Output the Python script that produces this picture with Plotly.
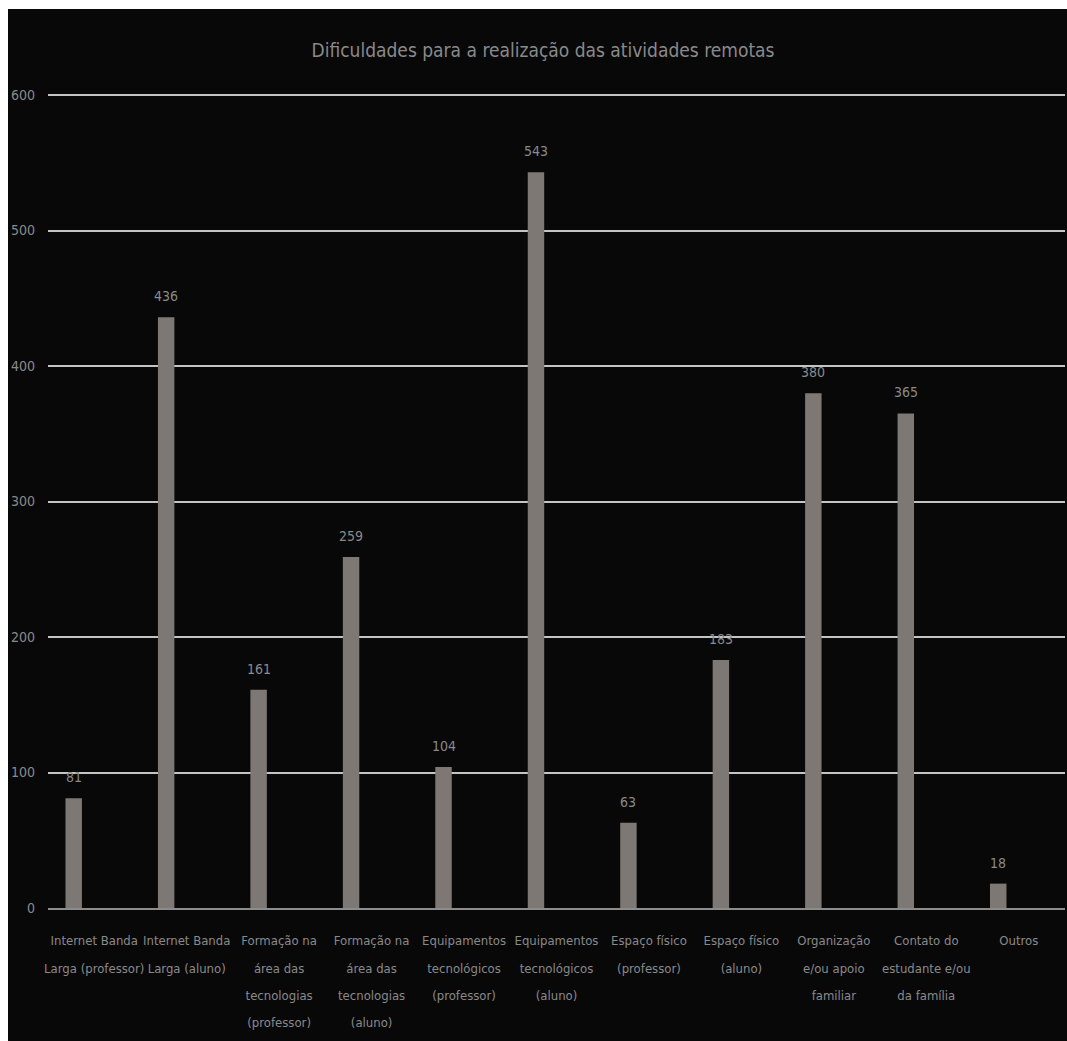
import plotly.graph_objects as go

categories = [
    "Internet Banda Larga (professor)",
    "Internet Banda Larga (aluno)",
    "Formação na área das tecnologias (professor)",
    "Formação na área das tecnologias (aluno)",
    "Equipamentos tecnológicos (professor)",
    "Equipamentos tecnológicos (aluno)",
    "Espaço físico (professor)",
    "Espaço físico (aluno)",
    "Organização e/ou apoio familiar",
    "Contato do estudante e/ou da família",
    "Outros",
]
tick_lines = [
    ["Internet Banda", "Larga (professor)"],
    ["Internet Banda", "Larga (aluno)"],
    ["Formação na", "área das", "tecnologias", "(professor)"],
    ["Formação na", "área das", "tecnologias", "(aluno)"],
    ["Equipamentos", "tecnológicos", "(professor)"],
    ["Equipamentos", "tecnológicos", "(aluno)"],
    ["Espaço físico", "(professor)"],
    ["Espaço físico", "(aluno)"],
    ["Organização", "e/ou apoio", "familiar"],
    ["Contato do", "estudante e/ou", "da família"],
    ["Outros"],
]
values = [81, 436, 161, 259, 104, 543, 63, 183, 380, 365, 18]
y_ticks = [0, 100, 200, 300, 400, 500, 600]

FONT = "Liberation Sans Narrow, DejaVu Sans Condensed, Liberation Sans, sans-serif"
GRAY = "#8a8a8a"
BAR = "#7d7874"

ticktext = ["<br>".join(f'<span style="font-size:13px">{l}</span>' for l in lines) for lines in tick_lines]

fig = go.Figure()
fig.add_trace(go.Bar(
    x=categories, y=values,
    marker=dict(color=BAR, line=dict(width=0)),
    width=0.178, offset=-0.311,
    hoverinfo="x+y",
))

for c, v in zip(categories, values):
    fig.add_annotation(
        x=c, y=v, text=str(v), showarrow=False,
        xshift=-20.5, yanchor="bottom", yshift=11,
        font=dict(family=FONT, size=14, color=GRAY),
    )

L, R, T, B = 48, 2, 94, 133
W, H = 1067, 1041
pw, ph = W - L - R, H - T - B

def px2x(px):
    return (px - L) / pw

def py2y(py):
    return (H - B - py) / ph

fig.add_shape(type="rect", xref="paper", yref="paper",
              x0=px2x(8), x1=px2x(W + 5), y0=py2y(9), y1=py2y(H + 5),
              fillcolor="#080808", line=dict(width=0), layer="below")

fig.update_layout(
    width=W, height=H,
    margin=dict(l=L, r=R, t=T, b=B, pad=0),
    paper_bgcolor="white",
    plot_bgcolor="rgba(0,0,0,0)",
    showlegend=False,
    title=dict(
        text="Dificuldades para a realização das atividades remotas",
        x=(543 - L) / pw, xanchor="center", xref="paper",
        y=1 - 50 / H, yanchor="middle",
        font=dict(family=FONT, size=19, color=GRAY),
    ),
    font=dict(family=FONT, color=GRAY),
)
fig.update_xaxes(
    tickvals=categories, ticktext=ticktext, tickangle=0,
    tickfont=dict(family=FONT, size=21, color=GRAY),
    showgrid=False, showline=True, linecolor="#8c8c8c", linewidth=2,
    ticks="", ticklabelstandoff=10, fixedrange=True,
)
fig.update_yaxes(
    range=[0, 600.8], tickvals=y_ticks,
    showgrid=True, gridcolor="#c4c4c4", gridwidth=2,
    zeroline=False, showline=False,
    tickfont=dict(family=FONT, size=14, color=GRAY),
    ticks="", ticklabelstandoff=12, fixedrange=True,
)

fig.write_html("out.html")
